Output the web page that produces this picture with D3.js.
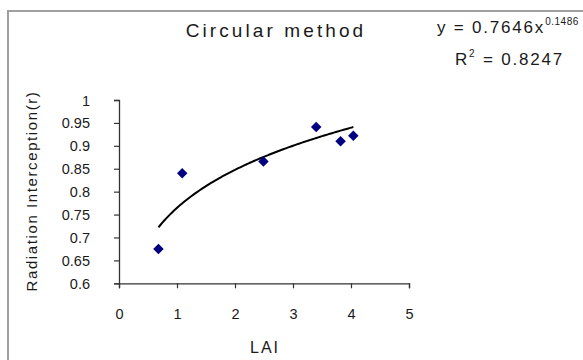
<!DOCTYPE html>
<html><head><meta charset="utf-8">
<script src="https://cdn.jsdelivr.net/npm/d3@7"></script>
<style>
html,body{margin:0;padding:0;background:#fff;}
svg{display:block;font-family:"Liberation Sans",Arial,sans-serif;}
</style></head>
<body><svg id="c" width="583" height="360"></svg>
<script>
// Data
const lai = [0.68, 1.09, 2.49, 3.40, 3.82, 4.04];
const interception = [0.675, 0.840, 0.866, 0.941, 0.910, 0.922];
const xTicks = [0, 1, 2, 3, 4, 5];
const yTicks = [0.6, 0.65, 0.7, 0.75, 0.8, 0.85, 0.9, 0.95, 1];
const trendCoef = 0.7646, trendExp = 0.1486, rSquared = 0.8247;
const title = "Circular method";
const xLabel = "LAI";
const yLabel = "Radiation Interception(r)";

const svg = d3.select("#c");
// outer frame (extends past the window on right/bottom)
svg.append("rect").attr("x", 8).attr("y", 11).attr("width", 600).attr("height", 400)
  .attr("fill", "#fff").attr("stroke", "#a0a0a0").attr("stroke-width", 2);

const x = d3.scaleLinear().domain([0, 5]).range([119, 409]);
const y = d3.scaleLinear().domain([0.6, 1]).range([283.3, 100]);

const xAxis = svg.append("g").attr("transform", `translate(0,${y(0.6)})`)
  .call(d3.axisBottom(x).tickValues(xTicks).tickFormat(d3.format("d")).tickSize(5).tickPadding(20));
const yAxis = svg.append("g").attr("transform", `translate(${x(0)},0)`)
  .call(d3.axisLeft(y).tickValues(yTicks).tickFormat(d => String(+d.toFixed(2))).tickSize(5).tickPadding(24));
[xAxis, yAxis].forEach(g => {
  g.select(".domain").attr("stroke", "#333").attr("stroke-width", 1.3);
  g.selectAll(".tick line").attr("stroke", "#333").attr("stroke-width", 1.2);
  g.selectAll("text").attr("fill", "#1a1a1a").style("font-size", "14.5px")
    .style("font-family", '"Liberation Sans",Arial,sans-serif');
});
yAxis.selectAll("text").attr("dy", "0.35em");

// trendline (power fit displayed on chart)
const [x0, x1] = d3.extent(lai);
const trend = d3.range(0, 101).map(i => {
  const xv = x0 + (x1 - x0) * i / 100;
  return [xv, trendCoef * Math.pow(xv, trendExp)];
});
svg.append("path").datum(trend)
  .attr("d", d3.line().x(d => x(d[0])).y(d => y(d[1])))
  .attr("fill", "none").attr("stroke", "#000").attr("stroke-width", 2);

// markers
svg.append("g").selectAll("path").data(lai.map((v, i) => [v, interception[i]]))
  .join("path")
  .attr("d", d3.symbol(d3.symbolDiamond2, 70))
  .attr("transform", d => `translate(${x(d[0])},${y(d[1])})`)
  .attr("fill", "#000080");

// title
svg.append("text").attr("x", 276).attr("y", 37).attr("text-anchor", "middle")
  .style("font-size", "19px").style("letter-spacing", "3.1px").attr("fill", "#1a1a1a").text(title);

// equation
const eq = svg.append("text").attr("x", 437).attr("y", 33).attr("fill", "#1a1a1a")
  .style("font-size", "17px").style("letter-spacing", "1.8px");
eq.append("tspan").text(`y = ${trendCoef}x`);
eq.append("tspan").attr("dy", -8).style("font-size", "10px").style("letter-spacing", "0.5px").text(trendExp);
const r2 = svg.append("text").attr("x", 455).attr("y", 65).attr("fill", "#1a1a1a")
  .style("font-size", "17px").style("letter-spacing", "1.8px");
r2.append("tspan").text("R");
r2.append("tspan").attr("dy", -8).style("font-size", "10px").text("2");
r2.append("tspan").attr("dy", 8).text(` = ${rSquared}`);

// axis labels
svg.append("text").attr("x", 265).attr("y", 353).attr("text-anchor", "middle")
  .style("font-size", "16px").style("letter-spacing", "2px").attr("fill", "#1a1a1a").text(xLabel);
svg.append("text").attr("transform", "translate(32,191) rotate(-90)").attr("text-anchor", "middle")
  .attr("dy", "0.35em").style("font-size", "15px").style("letter-spacing", "1.6px")
  .attr("fill", "#1a1a1a").text(yLabel);
</script></body></html>
